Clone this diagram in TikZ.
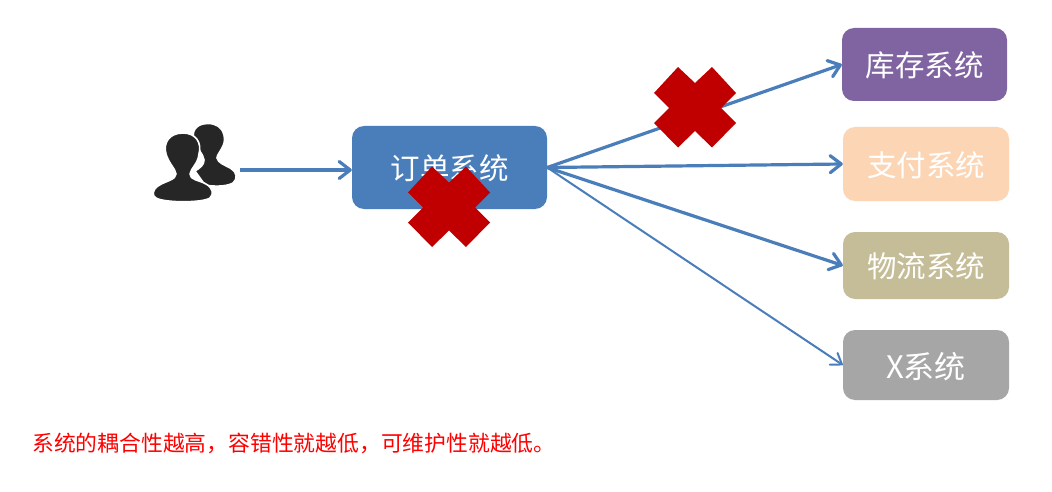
\documentclass[tikz,border=0pt]{standalone}
\usepackage{fontspec}
\setmainfont{Noto Sans CJK SC}
\usetikzlibrary{arrows.meta}
\definecolor{linkblue}{HTML}{4A7EBB}
\definecolor{sysorder}{HTML}{4A7EBB}
\definecolor{syspurple}{HTML}{8064A2}
\definecolor{syspeach}{HTML}{FCD5B5}
\definecolor{syskhaki}{HTML}{C4BD97}
\definecolor{sysgray}{HTML}{A6A6A6}
\definecolor{crossred}{HTML}{C00000}
\definecolor{icondark}{HTML}{262626}
\tikzset{
  sysbox/.style={rectangle,rounded corners=12pt,inner sep=0pt,text=white,font=\fontsize{29.5}{34}\selectfont,text depth=0pt,anchor=center},
  link/.style={draw=linkblue,line width=3.2pt,-{Straight Barb[length=11pt,width=17pt,line width=3.2pt,round]}},
  thinlink/.style={draw=linkblue,line width=2pt,-{Straight Barb[length=10pt,width=14pt,line width=2pt,round]}},
  crossmark/.style={fill=crossred,draw=none},
  figure/.style={fill=icondark,draw=white,line width=1.6pt,line join=round},
}
\begin{document}
\begin{tikzpicture}[x=1pt,y=-1pt]
\useasboundingbox (0,0) rectangle (1052,492);
\fill[white] (0,0) rectangle (1052,492);
% user icon (back figure, then front figure)
\draw[figure] (208,123.5) .. controls (196,123.5) and (191,131) .. (194,141)
  .. controls (197,149) and (203,153) .. (204,160) .. controls (204,165) and (200,168) .. (195,171)
  -- (205,185) .. controls (212,186.5) and (226,187) .. (233,183)
  .. controls (238,179) and (237,172) .. (231,168.5)
  .. controls (225,165) and (218,163) .. (217,158)
  .. controls (217,153) and (227,146) .. (224,135)
  .. controls (222,127) and (216,123.5) .. (208,123.5) -- cycle;
\draw[figure] (183,133) .. controls (169,133) and (163,143) .. (166,154)
  .. controls (169,164) and (175,168) .. (176,174)
  .. controls (176,180) and (165,181) .. (158,186)
  .. controls (152,190) and (152,196) .. (156,198)
  .. controls (164,203) and (203,203) .. (210,198)
  .. controls (214,194) and (213,188) .. (206,184)
  .. controls (199,180) and (190,180) .. (190,174)
  .. controls (191,168) and (198,164) .. (199,154)
  .. controls (202,143) and (196,133) .. (183,133) -- cycle;
\coordinate (userout) at (240,170);
% boxes
\node[sysbox,fill=sysorder,minimum width=195pt,minimum height=83pt] (order) at (449.5,167.5) {订单系统};
\node[sysbox,fill=syspurple,minimum width=165pt,minimum height=73pt] (stock) at (924.5,64.5) {库存系统};
\node[sysbox,fill=syspeach,minimum width=166pt,minimum height=74pt] (pay) at (926,164) {支付系统};
\node[sysbox,fill=syskhaki,minimum width=166pt,minimum height=67pt] (logistics) at (926,265.5) {物流系统};
\node[sysbox,fill=sysgray,minimum width=166pt,minimum height=70pt] (xsys) at (926,365) {\fontsize{31}{34}\selectfont X系统};
% connectors
\draw[link] (userout) -- (userout -| order.west);
\draw[link] (order.east) -- (stock.west);
\draw[link] (order.east) -- (pay.west);
\draw[link] (order.east) -- (logistics.west);
\draw[thinlink] (order.east) -- (xsys.west);
% crosses
\fill[crossmark] (695,107) ++(-17,-40) -- ++(17,16) -- ++(17,-16) -- ++(24,26) -- ++(-15,15) -- ++(15,15) -- ++(-24,24.5) -- ++(-17,-16.5) -- ++(-17,16.5) -- ++(-24,-24.5) -- ++(15,-15) -- ++(-15,-15) -- cycle;
\fill[crossmark] (449,206.5) ++(-17,-40) -- ++(17,16) -- ++(17,-16) -- ++(24,26) -- ++(-15,15) -- ++(15,15) -- ++(-24,24.5) -- ++(-17,-16.5) -- ++(-17,16.5) -- ++(-24,-24.5) -- ++(15,-15) -- ++(-15,-15) -- cycle;
% note
\node[anchor=west,inner sep=0pt,text=red,font=\fontsize{21.8}{26}\selectfont] (note) at (32,443) {系统的耦合性越高，容错性就越低，可维护性就越低。};
\end{tikzpicture}
\end{document}
